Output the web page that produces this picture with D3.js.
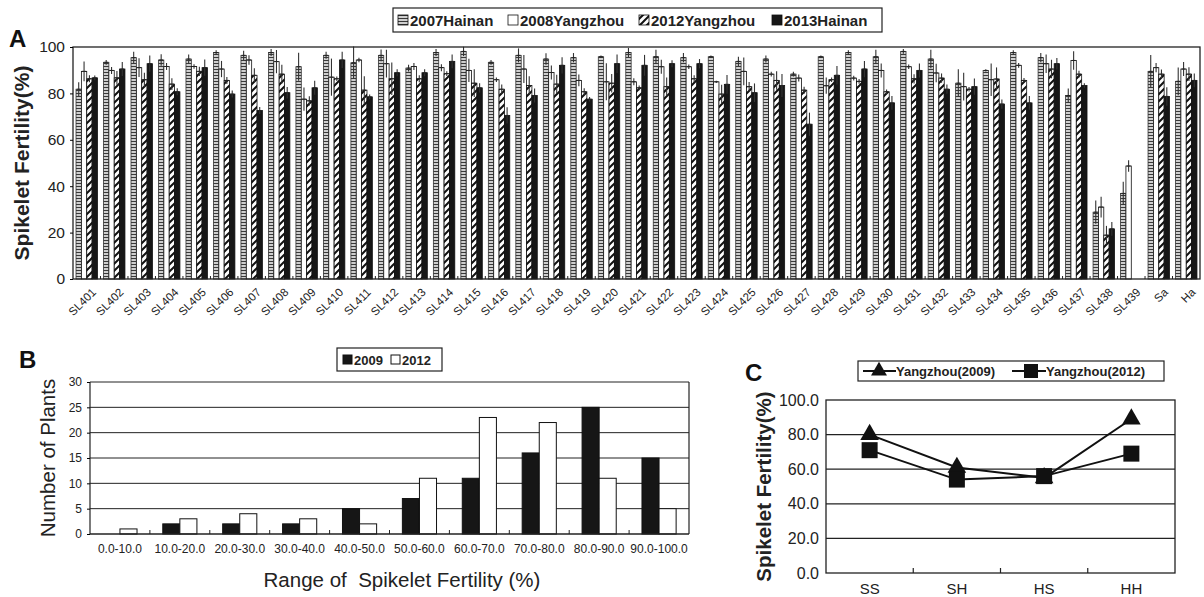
<!DOCTYPE html>
<html><head><meta charset="utf-8">
<script src="https://cdn.jsdelivr.net/npm/d3@7"></script>
<style>
body{margin:0;background:#fff;}
svg{display:block;font-family:"Liberation Sans",Arial,sans-serif;}
</style></head>
<body>
<svg id="c" width="1204" height="597"></svg>
<script>
// ---------- Panel A data ----------
const linesA = ["SL401","SL402","SL403","SL404","SL405","SL406","SL407","SL408","SL409","SL410","SL411","SL412","SL413","SL414","SL415","SL416","SL417","SL418","SL419","SL420","SL421","SL422","SL423","SL424","SL425","SL426","SL427","SL428","SL429","SL430","SL431","SL432","SL433","SL434","SL435","SL436","SL437","SL438","SL439","Sa","Ha"];
const seriesA = ["2007Hainan","2008Yangzhou","2012Yangzhou","2013Hainan"];
const hainan2007 = [81.8,93.4,95.4,94.4,94.8,97.6,96.4,97.6,91.5,96.4,93.2,96.4,90.9,97.6,98.1,93.4,96.4,94.8,95.4,95.8,97.6,95.8,95.4,95.8,93.8,94.8,88.3,95.8,97.6,95.8,98.1,94.8,84.4,89.9,97.6,95.4,79.1,28.8,36.9,89.5,85.2];
const yangzhou2008 = [89.5,89.9,91.1,91.6,91.6,90.5,94.4,93.7,77.5,87.0,94.4,92.8,91.6,91.1,89.9,85.9,90.5,89.0,85.6,85.0,85.0,91.5,91.5,85.0,89.5,88.3,86.6,83.3,86.6,89.9,91.5,88.8,82.9,85.9,92.1,92.8,94.2,31.0,48.7,91.1,90.5];
const yangzhou2012 = [86.3,86.7,85.9,84.0,89.5,85.6,87.8,88.3,76.8,86.3,81.4,86.3,86.3,88.5,84.4,81.8,83.4,84.0,80.7,84.4,82.4,82.9,86.3,79.7,82.9,85.6,81.4,85.9,85.2,80.7,86.3,86.6,81.8,86.2,85.6,90.5,88.3,18.9,null,88.3,88.3];
const hainan2013 = [86.7,90.5,92.8,80.7,91.1,79.7,72.6,80.3,82.4,94.4,78.5,88.9,88.9,93.8,82.4,70.5,79.1,92.1,77.5,92.8,92.1,92.8,92.8,83.9,80.3,83.4,66.7,87.8,90.5,75.9,89.9,81.8,82.9,75.4,75.9,92.8,83.4,21.6,null,78.7,85.6];
const err2007 = [3,1,2.5,2.5,2,1,2,1.5,6,1.5,7,2.5,1.5,1.5,2,1,3,2.5,2,0.5,2,3,2,0.5,2,1.5,1,0.5,1,3,1,4,6,0.5,1,2,3,5,5,7,6];
const err2008 = [4.3,1.5,4,1.5,1,3.5,2,5,5,8,1,6,1.5,1.5,5,1,6,3,2.5,8,1.5,3,1,0.5,6,1,1.5,3.5,1,3,1,4,6,7,1,4,4,4.5,2.5,2,3];
const err2012 = [1.5,3,3,2.5,2,1.5,3,4,2,1,6,7,1.5,1,6,2,4,4,1.5,4,1,4,1.5,4,2,4,1.5,1,1,1,2,2,1,5,1,4,1.5,4,0,2,3];
const err2013 = [1,3,3.5,1.5,3.5,1.5,1.5,2.5,3,3.5,1,1.5,1.5,3,2,3.5,3,3.5,1,4,4.5,1.5,2,4,4,5,5,4,3.5,3,3,2,3.5,2,3,2.5,1,3,0,4,3];
const ticksA = [0,20,40,60,80,100];

// ---------- Panel B data ----------
const rangesB = ["0.0-10.0","10.0-20.0","20.0-30.0","30.0-40.0","40.0-50.0","50.0-60.0","60.0-70.0","70.0-80.0","80.0-90.0","90.0-100.0"];
const seriesB = ["2009","2012"];
const plants2009 = [0,2,2,2,5,7,11,16,25,15];
const plants2012 = [1,3,4,3,2,11,23,22,11,5];
const ticksB = [0,5,10,15,20,25,30];

// ---------- Panel C data ----------
const genotypesC = ["SS","SH","HS","HH"];
const seriesC = ["Yangzhou(2009)","Yangzhou(2012)"];
const fert2009 = [80,61,55,89];
const fert2012 = [71,54,56,69];
const ticksC = [0,20,40,60,80,100];

const FONT = '"Liberation Sans",Arial,sans-serif';
const svg = d3.select("#c");
const defs = svg.append("defs");

// patterns
const pH = defs.append("pattern").attr("id","hstripe").attr("patternUnits","userSpaceOnUse")
  .attr("width",4).attr("height",3);
pH.append("rect").attr("width",4).attr("height",3).attr("fill","#cfcfcf");
pH.append("rect").attr("width",4).attr("height",1).attr("fill","#3a3a3a");

const pD = defs.append("pattern").attr("id","diag").attr("patternUnits","userSpaceOnUse")
  .attr("width",7).attr("height",7);
pD.append("rect").attr("width",7).attr("height",7).attr("fill","#fff");
pD.append("path").attr("d","M-1,8 L8,-1 M-2,2 L2,-2 M5,9 L9,5").attr("stroke","#111").attr("stroke-width",2);

const fillsA = ["url(#hstripe)","#fff","url(#diag)","#161616"];
const strokesA = ["#333","#111","#111","#111"];

// ================= Panel A =================
{
  const L=73, R=1200, T=47, B=279;
  const x0 = d3.scaleBand().domain(linesA).range([L,R]).paddingInner(0.22).paddingOuter(0.11);
  const x1 = d3.scaleBand().domain(seriesA).range([0,x0.bandwidth()]);
  const y = d3.scaleLinear().domain([0,100]).range([B,T]);
  const g = svg.append("g");
  const data = [hainan2007,yangzhou2008,yangzhou2012,hainan2013];
  const errs = [err2007,err2008,err2012,err2013];
  seriesA.forEach((s,si)=>{
    const gs = g.append("g");
    linesA.forEach((c,ci)=>{
      const v = data[si][ci];
      if(v==null) return;
      gs.append("rect").attr("x",x0(c)+x1(s)).attr("y",y(v))
        .attr("width",x1.bandwidth()).attr("height",y(0)-y(v))
        .attr("fill",fillsA[si]).attr("stroke",strokesA[si]).attr("stroke-width",0.8);
    });
  });
  seriesA.forEach((s,si)=>{
    linesA.forEach((c,ci)=>{
      const v = data[si][ci], e = errs[si][ci];
      if(v==null||!e) return;
      const cx = x0(c)+x1(s)+x1.bandwidth()/2;
      g.append("line").attr("x1",cx).attr("x2",cx).attr("y1",y(v+e)).attr("y2",y(Math.max(0,v-e)))
        .attr("stroke","#333").attr("stroke-width",1.1);
      g.append("line").attr("x1",cx-2).attr("x2",cx+2).attr("y1",y(v)).attr("y2",y(v))
        .attr("stroke","#222").attr("stroke-width",1);
    });
  });
  // frame
  g.append("rect").attr("x",L).attr("y",T).attr("width",R-L).attr("height",B-T)
    .attr("fill","none").attr("stroke","#222").attr("stroke-width",1.3);
  // y axis
  const ya = d3.axisLeft(y).tickValues(ticksA).tickSize(3).tickPadding(5);
  const yg = g.append("g").attr("transform",`translate(${L},0)`).call(ya);
  yg.select(".domain").remove();
  yg.selectAll("text").attr("font-family",FONT).attr("font-size",15.5).attr("fill","#222");
  // x tick marks between groups
  const step = x0.step();
  linesA.forEach((c,i)=>{
    if(i===0) return;
    const xx = x0(c)-x0.paddingInner()*step/2;
    g.append("line").attr("x1",xx).attr("x2",xx).attr("y1",B).attr("y2",B-3).attr("stroke","#222");
  });
  // x labels
  linesA.forEach(c=>{
    const cx = x0(c)+x0.bandwidth()/2+10;
    g.append("text").attr("transform",`translate(${cx},${B+14}) rotate(-45)`)
      .attr("text-anchor","end").attr("font-family",FONT).attr("font-size",11.5).attr("fill","#222").text(c);
  });
  g.append("text").attr("transform",`translate(29,${(T+B)/2}) rotate(-90)`).attr("text-anchor","middle")
    .attr("font-family",FONT).attr("font-weight","bold").attr("font-size",21).attr("fill","#222").text("Spikelet Fertility(%)");
  g.append("text").attr("x",9).attr("y",47).attr("font-family",FONT).attr("font-weight","bold").attr("font-size",24).attr("fill","#111").text("A");
  // legend
  const lg = svg.append("g");
  lg.append("rect").attr("x",393).attr("y",8).attr("width",489).attr("height",24).attr("fill","#fff").attr("stroke","#222").attr("stroke-width",1.2);
  const lx = [398,508,639,772];
  seriesA.forEach((s,i)=>{
    lg.append("rect").attr("x",lx[i]).attr("y",15).attr("width",10).attr("height",10)
      .attr("fill",fillsA[i]).attr("stroke","#111").attr("stroke-width",0.8);
    lg.append("text").attr("x",lx[i]+12).attr("y",25.5).attr("font-family",FONT).attr("font-weight","bold")
      .attr("font-size",15).attr("fill","#222").text(s);
  });
}

// ================= Panel B =================
{
  const L=90, R=689, T=382, B=534;
  const x0 = d3.scaleBand().domain(rangesB).range([L,R]).paddingInner(0.43).paddingOuter(0.215);
  const x1 = d3.scaleBand().domain(seriesB).range([0,x0.bandwidth()]);
  const y = d3.scaleLinear().domain([0,30]).range([B,T]);
  const g = svg.append("g");
  const yg0 = g.append("g");
  ticksB.forEach(t=>{ if(t>0) yg0.append("line").attr("x1",L).attr("x2",R).attr("y1",y(t)).attr("y2",y(t)).attr("stroke","#222").attr("stroke-width",1); });
  const data=[plants2009,plants2012], fills=["#161616","#fff"];
  seriesB.forEach((s,si)=>{
    rangesB.forEach((c,ci)=>{
      const v=data[si][ci];
      if(!v) return;
      g.append("rect").attr("x",x0(c)+x1(s)).attr("y",y(v)).attr("width",x1.bandwidth()).attr("height",y(0)-y(v))
        .attr("fill",fills[si]).attr("stroke","#111").attr("stroke-width",1);
    });
  });
  g.append("line").attr("x1",L).attr("x2",L).attr("y1",T).attr("y2",B).attr("stroke","#222").attr("stroke-width",1.2);
  g.append("line").attr("x1",R).attr("x2",R).attr("y1",T).attr("y2",B).attr("stroke","#222").attr("stroke-width",1.2);
  g.append("line").attr("x1",L).attr("x2",R).attr("y1",B).attr("y2",B).attr("stroke","#222").attr("stroke-width",1.4);
  const ya = d3.axisLeft(y).tickValues(ticksB).tickSize(3).tickPadding(5);
  const yg = g.append("g").attr("transform",`translate(${L},0)`).call(ya);
  yg.select(".domain").remove();
  yg.selectAll("text").attr("font-family",FONT).attr("font-size",12).attr("fill","#222");
  const step=x0.step();
  rangesB.forEach((c,i)=>{
    if(i===0) return;
    const xx=x0(c)-x0.paddingInner()*step/2;
    g.append("line").attr("x1",xx).attr("x2",xx).attr("y1",B).attr("y2",B-4).attr("stroke","#222");
  });
  const xa = d3.axisBottom(x0).tickSize(0).tickPadding(10);
  const xg = g.append("g").attr("transform",`translate(0,${B})`).call(xa);
  xg.select(".domain").remove();
  xg.selectAll("text").attr("font-family",FONT).attr("font-size",12).attr("fill","#222");
  g.append("text").attr("transform",`translate(55,${(T+B)/2}) rotate(-90)`).attr("text-anchor","middle")
    .attr("font-family",FONT).attr("font-size",20.5).attr("fill","#222").text("Number of Plants");
  g.append("text").attr("x",402).attr("y",587).attr("text-anchor","middle")
    .attr("font-family",FONT).attr("font-size",20.5).attr("fill","#222").text("Range of\u00A0 Spikelet Fertility (%)");
  g.append("text").attr("x",19).attr("y",368).attr("font-family",FONT).attr("font-weight","bold").attr("font-size",24).attr("fill","#111").text("B");
  const lg=svg.append("g");
  lg.append("rect").attr("x",337).attr("y",348).attr("width",105).attr("height",23).attr("fill","#fff").attr("stroke","#222").attr("stroke-width",1.2);
  [[343,"#161616"],[391,"#fff"]].forEach((d,i)=>{
    lg.append("rect").attr("x",d[0]).attr("y",355).attr("width",9).attr("height",9).attr("fill",d[1]).attr("stroke","#111");
    lg.append("text").attr("x",d[0]+11).attr("y",364.5).attr("font-family",FONT).attr("font-weight","bold").attr("font-size",13).attr("fill","#222").text(seriesB[i]);
  });
}

// ================= Panel C =================
{
  const L=826, R=1175, T=400, B=573;
  const x = d3.scaleBand().domain(genotypesC).range([L,R]);
  const y = d3.scaleLinear().domain([0,100]).range([B,T]);
  const g = svg.append("g");
  ticksC.forEach(t=>{ if(t>0&&t<100) g.append("line").attr("x1",L).attr("x2",R).attr("y1",y(t)).attr("y2",y(t)).attr("stroke","#222").attr("stroke-width",1.2); });
  g.append("rect").attr("x",L).attr("y",T).attr("width",R-L).attr("height",B-T).attr("fill","none").attr("stroke","#222").attr("stroke-width",1.3);
  genotypesC.forEach((c,i)=>{ if(i>0) g.append("line").attr("x1",x(c)).attr("x2",x(c)).attr("y1",B).attr("y2",B-5).attr("stroke","#222").attr("stroke-width",1.2); });
  const ya=d3.axisLeft(y).tickValues(ticksC).tickSize(0).tickPadding(7).tickFormat(d3.format(".1f"));
  const yg=g.append("g").attr("transform",`translate(${L},0)`).call(ya);
  yg.select(".domain").remove();
  yg.selectAll("text").attr("font-family",FONT).attr("font-size",16).attr("fill","#222");
  const xa=d3.axisBottom(x).tickSize(0).tickPadding(10);
  const xg=g.append("g").attr("transform",`translate(0,${B})`).call(xa);
  xg.select(".domain").remove();
  xg.selectAll("text").attr("font-family",FONT).attr("font-size",15).attr("fill","#222");
  const cx = c=>x(c)+x.bandwidth()/2;
  const line=d3.line().x((d,i)=>cx(genotypesC[i])).y(d=>y(d));
  g.append("path").attr("d",line(fert2009)).attr("fill","none").attr("stroke","#111").attr("stroke-width",2);
  g.append("path").attr("d",line(fert2012)).attr("fill","none").attr("stroke","#111").attr("stroke-width",2);
  const tri=d3.symbol().type(d3.symbolTriangle).size(150);
  fert2009.forEach((v,i)=>g.append("path").attr("d",tri()).attr("transform",`translate(${cx(genotypesC[i])},${y(v)})`).attr("fill","#111"));
  fert2012.forEach((v,i)=>g.append("rect").attr("x",cx(genotypesC[i])-8).attr("y",y(v)-8).attr("width",16).attr("height",16).attr("fill","#111"));
  g.append("text").attr("transform",`translate(771,${(T+B)/2}) rotate(-90)`).attr("text-anchor","middle")
    .attr("font-family",FONT).attr("font-weight","bold").attr("font-size",20.5).attr("fill","#222").text("Spikelet Fertility(%)");
  g.append("text").attr("x",745).attr("y",381).attr("font-family",FONT).attr("font-weight","bold").attr("font-size",24).attr("fill","#111").text("C");
  const lg=svg.append("g");
  lg.append("rect").attr("x",858).attr("y",361).attr("width",306).attr("height",20).attr("fill","#fff").attr("stroke","#222").attr("stroke-width",1.2);
  lg.append("line").attr("x1",863).attr("x2",896).attr("y1",371).attr("y2",371).attr("stroke","#111").attr("stroke-width",2);
  lg.append("path").attr("d",d3.symbol().type(d3.symbolTriangle).size(110)()).attr("transform","translate(879,371)").attr("fill","#111");
  lg.append("text").attr("x",896).attr("y",376).attr("font-family",FONT).attr("font-weight","bold").attr("font-size",13).attr("fill","#222").text(seriesC[0]);
  lg.append("line").attr("x1",1012).attr("x2",1046).attr("y1",371).attr("y2",371).attr("stroke","#111").attr("stroke-width",2);
  lg.append("rect").attr("x",1024).attr("y",364).attr("width",14).attr("height",14).attr("fill","#111");
  lg.append("text").attr("x",1046).attr("y",376).attr("font-family",FONT).attr("font-weight","bold").attr("font-size",13).attr("fill","#222").text(seriesC[1]);
}
</script>
</body></html>
